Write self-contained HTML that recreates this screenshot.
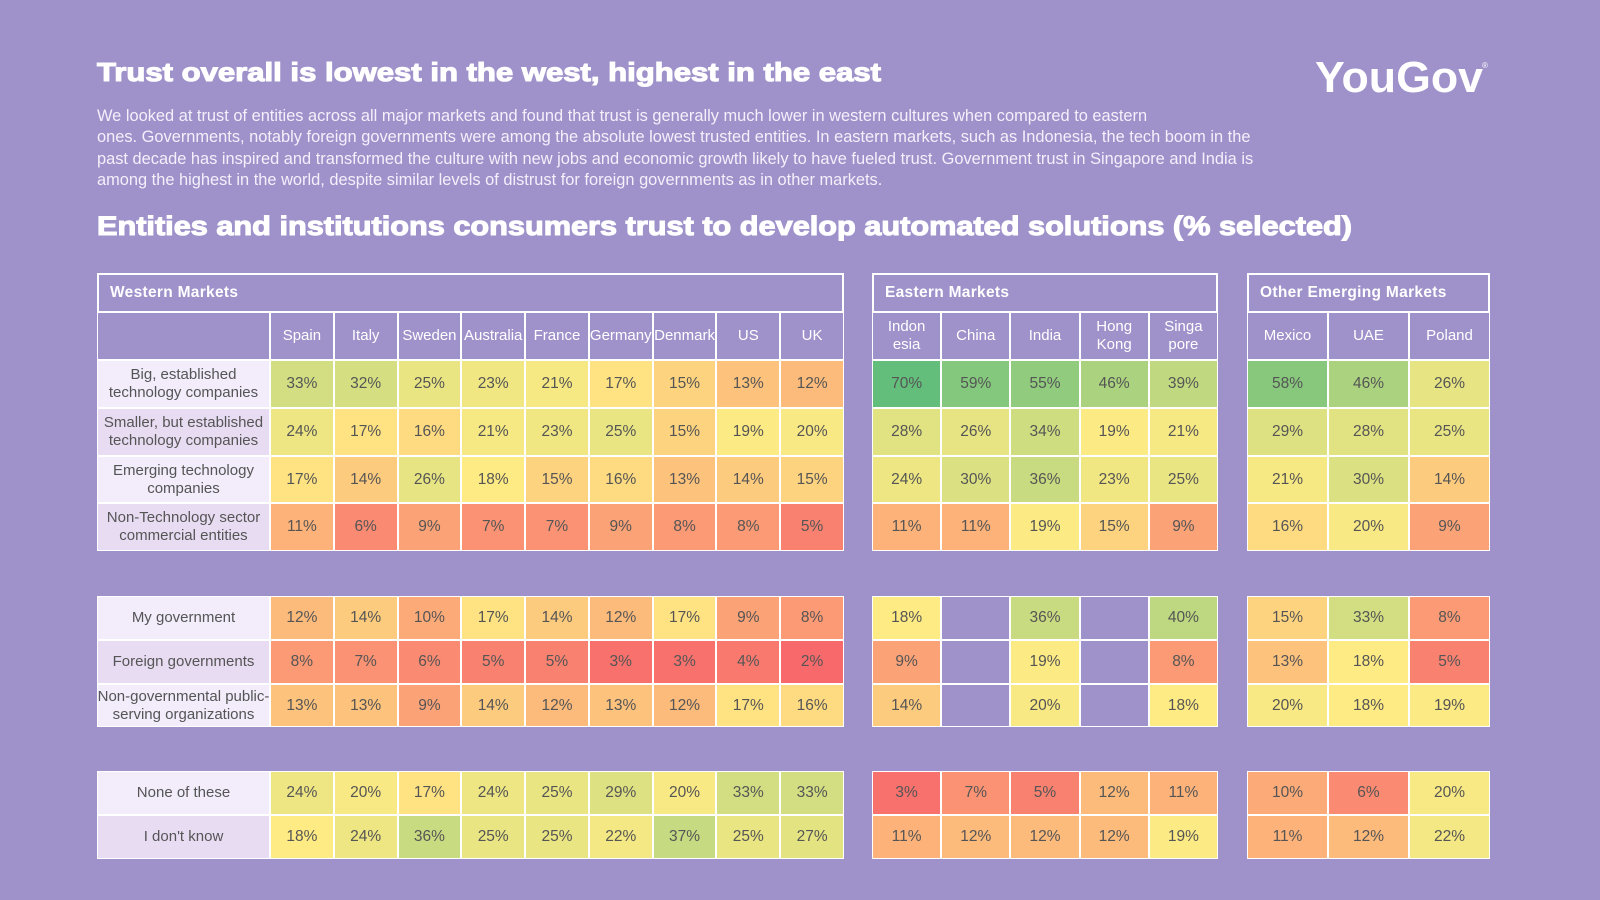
<!DOCTYPE html>
<html><head><meta charset="utf-8">
<style>
body{margin:0;width:1600px;height:900px;background:#9f91ca;font-family:"Liberation Sans",Arial,sans-serif;overflow:hidden;position:relative}
.abs{position:absolute;box-sizing:border-box}
.cell{display:flex;align-items:center;justify-content:center;text-align:center;color:#555;font-size:15.5px;border:1.5px solid #fff;line-height:18px}
.hdr{color:#fff;font-weight:bold;font-size:15.5px;display:flex;align-items:center;padding-left:11px;border:2.5px solid #fff;letter-spacing:.3px}
.col{color:#fff;font-size:15px;line-height:18px}
.lab{font-size:15px;color:#555;line-height:18px;padding:0;white-space:nowrap}
#para{position:absolute;left:97px;top:106px;color:#f4f0fb;font-size:16.4px;line-height:21.4px;white-space:nowrap}
</style></head><body>
<svg class="abs" style="left:0;top:0" width="1600" height="260">
<text x="97" y="81" font-family="Liberation Sans, Arial, sans-serif" font-weight="bold" font-size="26" fill="#fff" stroke="#fff" stroke-width="1.1" textLength="784" lengthAdjust="spacingAndGlyphs">Trust overall is lowest in the west, highest in the east</text>
<text x="97" y="235" font-family="Liberation Sans, Arial, sans-serif" font-weight="bold" font-size="27" fill="#fff" stroke="#fff" stroke-width="1.1" textLength="1255" lengthAdjust="spacingAndGlyphs">Entities and institutions consumers trust to develop automated solutions (% selected)</text>
<text x="1315" y="92" font-family="Liberation Sans, Arial, sans-serif" font-weight="bold" font-size="44" fill="#fff" textLength="168" lengthAdjust="spacingAndGlyphs">YouGov</text>
<text x="1482" y="68" font-family="Liberation Sans, Arial, sans-serif" font-size="8" fill="#fff">®</text>
</svg>
<div id="para">We looked at trust of entities across all major markets and found that trust is generally much lower in western cultures when compared to eastern<br>ones. Governments, notably foreign governments were among the absolute lowest trusted entities. In eastern markets, such as Indonesia, the tech boom in the<br>past decade has inspired and transformed the culture with new jobs and economic growth likely to have fueled trust. Government trust in Singapore and India is<br>among the highest in the world, despite similar levels of distrust for foreign governments as in other markets.</div>
<div id="root"></div>
<script>
const rowLabels=["Big, established<br>technology companies","Smaller, but established<br>technology companies","Emerging technology<br>companies","Non-Technology sector<br>commercial entities","My government","Foreign governments","Non-governmental public-<br>serving organizations","None of these","I don't know"];
const westCountries=["Spain","Italy","Sweden","Australia","France","Germany","Denmark","US","UK"];
const eastCountries=["Indon<br>esia","China","India","Hong<br>Kong","Singa<br>pore"];
const otherCountries=["Mexico","UAE","Poland"];
const westValues=[
[33,32,25,23,21,17,15,13,12],
[24,17,16,21,23,25,15,19,20],
[17,14,26,18,15,16,13,14,15],
[11,6,9,7,7,9,8,8,5],
[12,14,10,17,14,12,17,9,8],
[8,7,6,5,5,3,3,4,2],
[13,13,9,14,12,13,12,17,16],
[24,20,17,24,25,29,20,33,33],
[18,24,36,25,25,22,37,25,27]];
const eastValues=[
[70,59,55,46,39],
[28,26,34,19,21],
[24,30,36,23,25],
[11,11,19,15,9],
[18,null,36,null,40],
[9,null,19,null,8],
[14,null,20,null,18],
[3,7,5,12,11],
[11,12,12,12,19]];
const otherValues=[
[58,46,26],
[29,28,25],
[21,30,14],
[16,20,9],
[15,33,8],
[13,18,5],
[20,18,19],
[10,6,20],
[11,12,22]];

const rowTop=[360,408,456,503,596,640,684,771,815];
const rowBot=[408,456,503,551,640,684,727,815,859];
function lerp(a,b,t){return a.map((v,i)=>Math.round(v+(b[i]-v)*t));}
function color(v){
  const r=[248,105,107],y=[255,235,132],g=[99,190,123];
  let c;
  if(v<=18){c=lerp(r,y,Math.max(0,(v-2)/16));}
  else c=lerp(y,g,Math.min(1,(v-18)/52));
  return `rgb(${c[0]},${c[1]},${c[2]})`;
}
const root=document.getElementById('root');
function div(cls,x,y,w,h,html){
  const d=document.createElement('div');d.className='abs '+cls;
  d.style.left=x+'px';d.style.top=y+'px';d.style.width=w+'px';d.style.height=h+'px';
  d.innerHTML=html;root.appendChild(d);return d;
}
function table(name,title,x0,labW,x1,cols,vals){
  const cw=(x1-x0-labW)/cols.length;
  const h=div('hdr',x0,273,x1-x0,40,title);
  
  
  if(labW>0){
    const e=div('cell',x0,312,labW,48,'');
    
    
  }
  cols.forEach((c,i)=>{
    const d=div('cell col',x0+labW+i*cw,312,cw,48,c);
    
    
  });
  rowLabels.forEach((lab,r)=>{
    if(labW>0){
      const l=div('cell lab',x0,rowTop[r],labW,rowBot[r]-rowTop[r],lab);
      l.style.background=([0,2,4,6,7].includes(r))?'#f2ecfb':'#e8dcf2';
      
      
    }
    vals[r].forEach((v,i)=>{
      const d=div('cell',x0+labW+i*cw,rowTop[r],cw,rowBot[r]-rowTop[r],v==null?'':v+'%');
      if(v!=null)d.style.background=color(v);
      
      
    });
  });
}
table('western','Western Markets',97,173,844,westCountries,westValues);
table('eastern','Eastern Markets',872,0,1218,eastCountries,eastValues);
table('other','Other Emerging Markets',1247,0,1490,otherCountries,otherValues);
</script>
</body></html>
